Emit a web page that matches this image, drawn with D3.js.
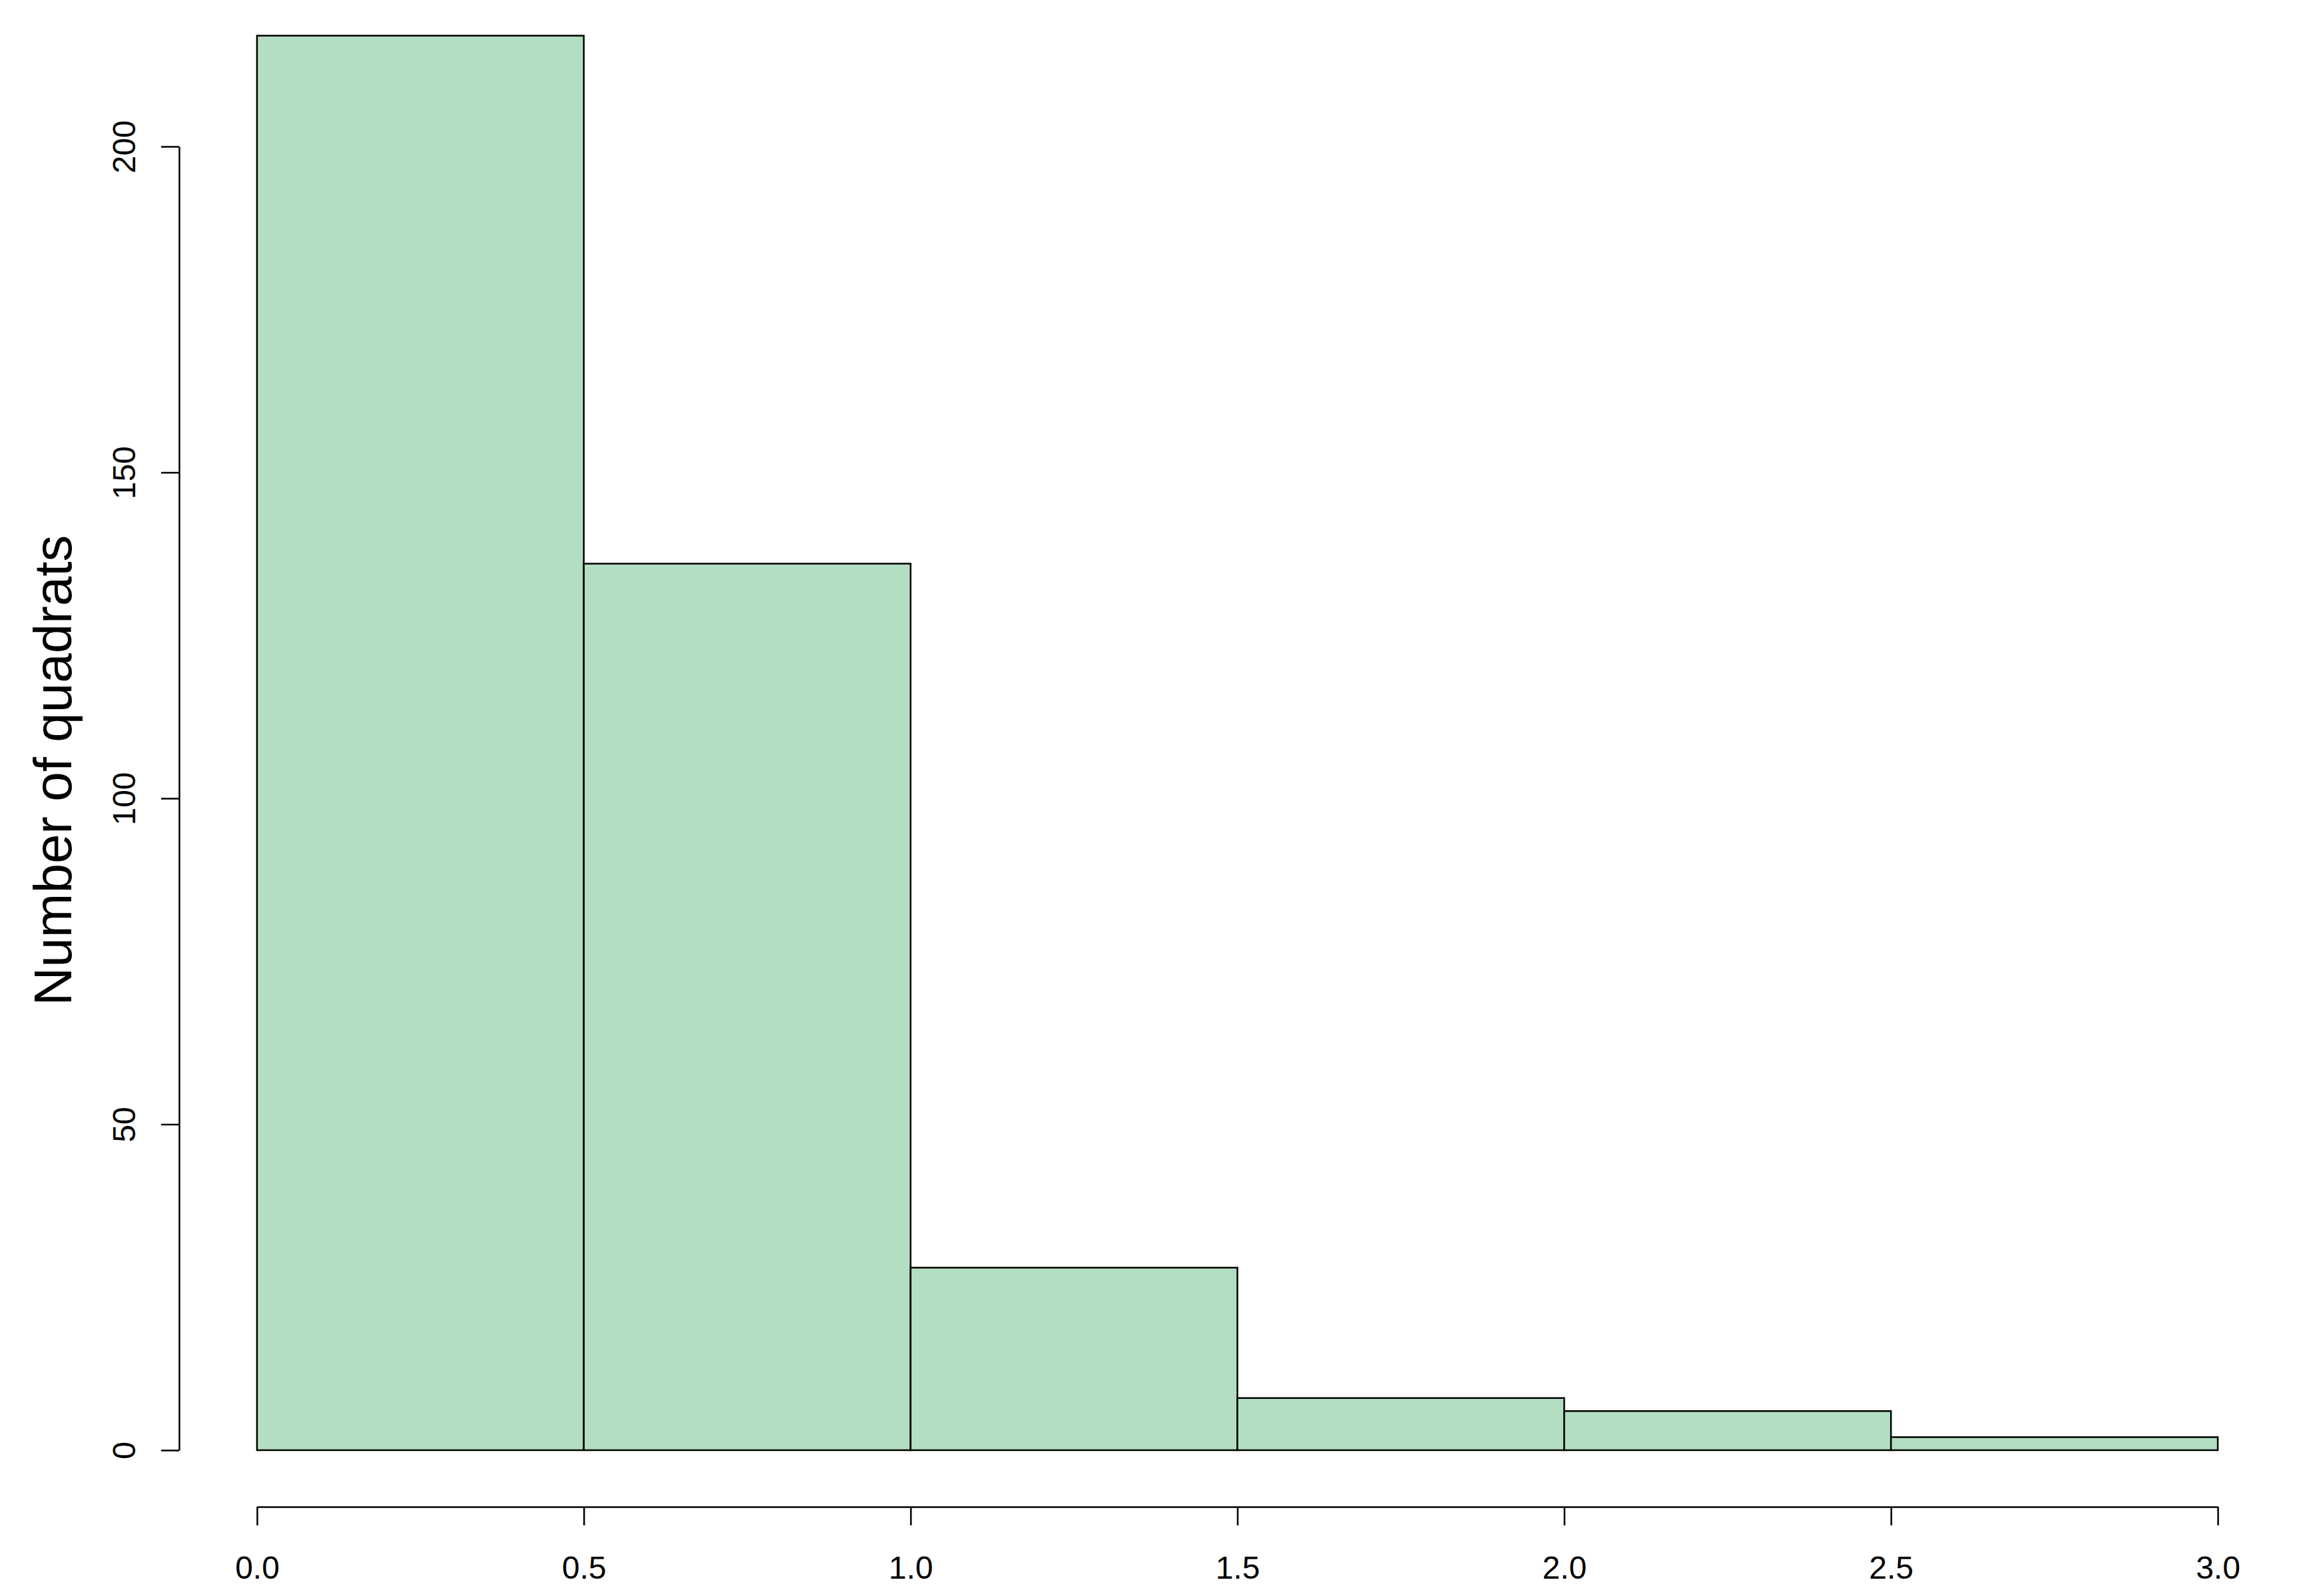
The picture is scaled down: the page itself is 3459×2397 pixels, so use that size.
<!DOCTYPE html>
<html>
<head>
<meta charset="utf-8">
<script src="https://cdn.jsdelivr.net/npm/d3@7"></script>
<style>
  html, body { margin: 0; padding: 0; background: #fff; }
  svg text { font-family: "Liberation Sans", Arial, sans-serif; }
</style>
</head>
<body>
<div id="plot"></div>
<script>
// histogram bins (left/right edges) and counts
const breaks = [0, 0.5, 1.0, 1.5, 2.0, 2.5, 3.0];
const counts = [217, 136, 28, 8, 6, 2];
const xTicks = [0, 0.5, 1.0, 1.5, 2.0, 2.5, 3.0];
const yTicks = [0, 50, 100, 150, 200];
const yLabel = "Number of quadrats";

const width = 3459, height = 2397;

const bins = counts.map((c, i) => ({x0: breaks[i], x1: breaks[i + 1], n: c}));

const x = d3.scaleLinear().domain([0, 3]).range([386, 3331]);
const y = d3.scaleLinear().domain([0, 200]).range([2178, 220]);

const svg = d3.select("#plot").append("svg")
  .attr("width", width)
  .attr("height", height)
  .attr("viewBox", [0, 0, width, height]);

// bars
svg.append("g")
  .selectAll("rect")
  .data(bins)
  .join("rect")
    .attr("x", d => x(d.x0))
    .attr("width", d => x(d.x1) - x(d.x0))
    .attr("y", d => y(d.n))
    .attr("height", d => y(0) - y(d.n))
    .attr("fill", "#b3dec1")
    .attr("stroke", "#000")
    .attr("stroke-width", 2.5);

// x axis, offset below the plot like base R
svg.append("g")
  .attr("transform", "translate(0,2263)")
  .call(d3.axisBottom(x).tickValues(xTicks).tickFormat(d3.format(".1f"))
    .tickSize(28).tickSizeOuter(0).tickPadding(46))
  .call(g => g.select(".domain").attr("stroke-width", 2.5))
  .call(g => g.selectAll(".tick line").attr("stroke-width", 2.5))
  .call(g => g.selectAll(".tick text")
    .attr("font-size", 48)
    .attr("fill", "#000")
    .attr("font-family", "Liberation Sans, Arial, sans-serif"));

// y axis, labels parallel to the axis
svg.append("g")
  .attr("transform", "translate(269,0)")
  .call(d3.axisLeft(y).tickValues(yTicks).tickSize(27).tickSizeOuter(0))
  .call(g => g.select(".domain").attr("stroke-width", 2.5))
  .call(g => g.selectAll(".tick line").attr("stroke-width", 2.5))
  .call(g => g.selectAll(".tick text")
    .attr("x", null).attr("dy", null)
    .attr("transform", "translate(-66,0) rotate(-90)")
    .attr("text-anchor", "middle")
    .attr("font-size", 48)
    .attr("fill", "#000")
    .attr("font-family", "Liberation Sans, Arial, sans-serif"));

svg.append("text")
  .attr("transform", "translate(107,1157) rotate(-90)")
  .attr("text-anchor", "middle")
  .attr("font-size", 80)
  .attr("fill", "#000")
  .text(yLabel);
</script>
</body>
</html>
